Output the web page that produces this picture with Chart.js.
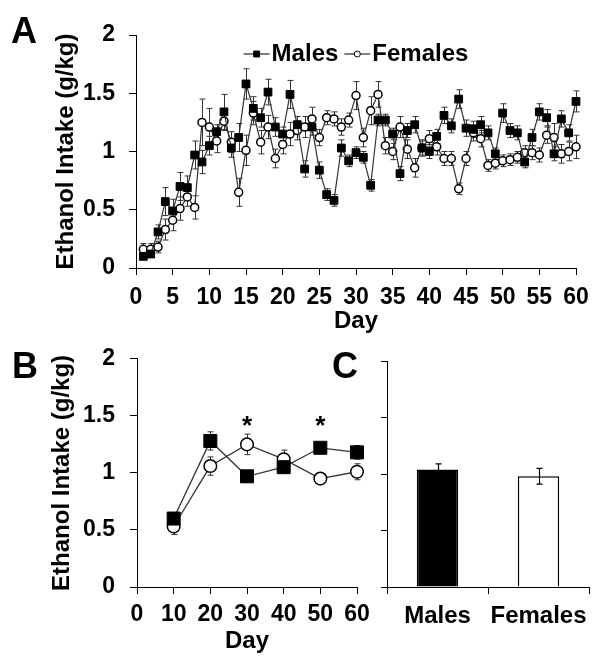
<!DOCTYPE html>
<html>
<head>
<meta charset="utf-8">
<script src="https://cdn.jsdelivr.net/npm/chart.js@4.4.1/dist/chart.umd.min.js"></script>
<style>
    body { margin: 0; background: #fff; width: 601px; height: 668px; position: relative; overflow: hidden;
           font-family: "Liberation Sans", Arial, sans-serif; }
    canvas { position: absolute; }
    .panel { position: absolute; font-weight: bold; font-size: 36px; line-height: 36px; z-index: 2; }
</style>
</head>
<body>
<canvas id="chartA" width="601" height="340" style="left:0;top:0"></canvas>
<canvas id="chartB" width="380" height="338" style="left:0;top:330px"></canvas>
<canvas id="chartC" width="231" height="338" style="left:370px;top:330px"></canvas>
<div class="panel" style="left:11px;top:13px">A</div>
<div class="panel" style="left:12px;top:348px">B</div>
<div class="panel" style="left:332px;top:348px">C</div>
<script>
// Panel A - daily intake (g/kg), days 1-60
const days = [1, 2, 3, 4, 5, 6, 7, 8, 9, 10, 11, 12, 13, 14, 15, 16, 17, 18, 19, 20,
    21, 22, 23, 24, 25, 26, 27, 28, 29, 30, 31, 32, 33, 34, 35, 36, 37, 38, 39, 40,
    41, 42, 43, 44, 45, 46, 47, 48, 49, 50, 51, 52, 53, 54, 55, 56, 57, 58, 59, 60];
const malesDaily = [0.10, 0.12, 0.31, 0.57, 0.49, 0.70, 0.69, 0.97, 0.91, 1.05,
    1.17, 1.34, 1.03, 1.12, 1.58, 1.37, 1.29, 1.51, 1.21, 1.15,
    1.49, 1.23, 0.85, 1.21, 0.84, 0.63, 0.58, 1.03, 0.92, 0.99,
    0.95, 0.71, 1.27, 1.27, 1.15, 0.81, 1.18, 1.23, 1.03, 1.00,
    1.13, 1.31, 1.22, 1.45, 1.20, 1.19, 1.23, 1.16, 0.98, 1.33,
    1.18, 1.16, 0.91, 1.12, 1.34, 1.29, 0.98, 1.28, 1.16, 1.43];
const femalesDaily = [0.16, 0.16, 0.18, 0.33, 0.41, 0.51, 0.61, 0.52, 1.25, 1.21,
    1.09, 1.26, 1.08, 0.65, 1.01, 1.33, 1.08, 1.21, 0.94, 1.06,
    1.15, 1.18, 1.21, 1.28, 1.12, 1.29, 1.28, 1.21, 1.27, 1.48,
    1.12, 1.35, 1.49, 1.05, 1.00, 1.21, 1.02, 0.86, 1.03, 1.11,
    1.04, 0.94, 0.94, 0.68, 0.94, 1.16, 1.11, 0.88, 0.90, 0.92,
    0.93, 0.95, 0.99, 0.99, 0.97, 1.14, 1.12, 0.98, 1.00, 1.04];
const malesDailySem = [0.03, 0.03, 0.06, 0.12, 0.10, 0.12, 0.10, 0.12, 0.10, 0.08,
    0.06, 0.15, 0.08, 0.12, 0.13, 0.10, 0.08, 0.11, 0.08, 0.06,
    0.12, 0.07, 0.07, 0.07, 0.07, 0.05, 0.05, 0.07, 0.05, 0.05,
    0.05, 0.05, 0.05, 0.05, 0.05, 0.06, 0.06, 0.07, 0.06, 0.06,
    0.06, 0.07, 0.06, 0.08, 0.07, 0.07, 0.07, 0.06, 0.05, 0.08,
    0.06, 0.06, 0.05, 0.07, 0.07, 0.07, 0.06, 0.07, 0.07, 0.09];
const femalesDailySem = [0.05, 0.05, 0.05, 0.09, 0.09, 0.10, 0.08, 0.10, 0.20, 0.16,
    0.10, 0.08, 0.09, 0.12, 0.13, 0.10, 0.10, 0.10, 0.08, 0.08,
    0.10, 0.08, 0.09, 0.10, 0.07, 0.06, 0.06, 0.07, 0.06, 0.12,
    0.08, 0.12, 0.11, 0.07, 0.07, 0.09, 0.08, 0.08, 0.07, 0.07,
    0.07, 0.06, 0.06, 0.05, 0.06, 0.07, 0.07, 0.05, 0.05, 0.05,
    0.05, 0.05, 0.06, 0.06, 0.06, 0.07, 0.12, 0.08, 0.08, 0.10];

// Panel B - 10-day blocks
const blockDays = [10, 20, 30, 40, 50, 60];
const malesBlock = [0.60, 1.28, 0.97, 1.05, 1.22, 1.18];
const femalesBlock = [0.53, 1.06, 1.25, 1.12, 0.95, 1.01];
const malesBlockSem = [0.02, 0.08, 0.03, 0.03, 0.03, 0.06];
const femalesBlockSem = [0.07, 0.08, 0.09, 0.08, 0.03, 0.07];
const sigDays = [30, 50];
const sigLevel = 1.4;

// Panel C - overall mean
const groups = ['Males', 'Females'];
const overallMean = [1.04, 0.98];
const overallSem = [0.05, 0.07];

const FONT = '"Liberation Sans", Arial, sans-serif';
Chart.defaults.font.family = FONT;
Chart.defaults.font.weight = 'bold';
Chart.defaults.color = '#000';

// error bars drawn from dataset.errors
const errorBars = {
    id: 'errorBars',
    beforeDatasetsDraw(chart, args, opts) { if (!opts.onTop) drawErrors(chart, opts); },
    afterDatasetsDraw(chart, args, opts) { if (opts.onTop) drawErrors(chart, opts); }
};
function drawErrors(chart, opts) {
    const ctx = chart.ctx;
    const yScale = chart.scales.y;
    chart.data.datasets.forEach((ds, di) => {
        if (!ds.errors) return;
        const meta = chart.getDatasetMeta(di);
        ctx.save();
        ctx.strokeStyle = opts.color || '#222';
        ctx.lineWidth = opts.lineWidth || 1;
        meta.data.forEach((el, i) => {
            const raw = ds.data[i];
            const val = typeof raw === 'object' ? raw.y : raw;
            const e = ds.errors[i];
            const x = Math.round(el.x) + 0.5;
            const top = yScale.getPixelForValue(val + e);
            const bot = yScale.getPixelForValue(val - e);
            const cap = opts.cap || 3;
            ctx.beginPath();
            ctx.moveTo(x, top); ctx.lineTo(x, bot);
            ctx.moveTo(x - cap, top); ctx.lineTo(x + cap, top);
            ctx.moveTo(x - cap, bot); ctx.lineTo(x + cap, bot);
            ctx.stroke();
        });
        ctx.restore();
    });
}

// legend with line + marker, centered over the plot area
const lineLegend = {
    id: 'lineLegend',
    afterDraw(chart, args, opts) {
        if (!opts.display) return;
        const ctx = chart.ctx;
        const area = chart.chartArea;
        ctx.save();
        ctx.font = 'bold 24px ' + FONT;
        const sym = 26, gap = 2, between = 6;
        const items = chart.data.datasets.map(ds => ({ ds: ds, w: ctx.measureText(ds.label).width }));
        const total = items.reduce((s, it) => s + sym + gap + it.w, 0) + between * (items.length - 1);
        let x = (area.left + area.right) / 2 - total / 2;
        const y = area.top + opts.offsetY;
        items.forEach(it => {
            ctx.strokeStyle = '#000';
            ctx.lineWidth = 1;
            ctx.beginPath();
            ctx.moveTo(x, y); ctx.lineTo(x + sym, y);
            ctx.stroke();
            ctx.fillStyle = it.ds.pointBackgroundColor;
            ctx.strokeStyle = '#000';
            Chart.helpers.drawPoint(ctx, {
                pointStyle: it.ds.pointStyle,
                radius: it.ds.pointStyle === 'rect' ? 4.2 : 3,
                rotation: 0,
                borderWidth: 1
            }, x + sym / 2, y);
            ctx.fillStyle = '#000';
            ctx.textBaseline = 'middle';
            ctx.textAlign = 'left';
            ctx.fillText(it.ds.label, x + sym + gap, y);
            x += sym + gap + it.w + between;
        });
        ctx.restore();
    }
};

// asterisks over significant blocks
const sigMarks = {
    id: 'sigMarks',
    afterDatasetsDraw(chart, args, opts) {
        if (!opts.days) return;
        const ctx = chart.ctx;
        ctx.save();
        ctx.font = 'bold 26px ' + FONT;
        ctx.fillStyle = '#000';
        ctx.textAlign = 'center';
        ctx.textBaseline = 'middle';
        opts.days.forEach(d => {
            ctx.fillText('*', chart.scales.x.getPixelForValue(d), chart.scales.y.getPixelForValue(opts.level));
        });
        ctx.restore();
    }
};

const axisLine = { display: true, color: '#000', width: 1 };
const tickGrid = { drawOnChartArea: false, drawTicks: true, tickLength: 7, color: '#000' };
const fmt = v => v.toString();

function seriesPoints(xs, ys) {
    return xs.map((d, i) => ({ x: d, y: ys[i] }));
}

document.addEventListener('DOMContentLoaded', function() {
    // Panel A
    new Chart(document.getElementById('chartA'), {
        type: 'line',
        data: {
            datasets: [{
                label: 'Males',
                data: seriesPoints(days, malesDaily),
                errors: malesDailySem,
                clip: false,
                borderColor: '#333',
                borderWidth: 1.2,
                pointStyle: 'rect',
                pointRadius: 5.5,
                pointBackgroundColor: '#000',
                pointBorderColor: '#000',
                pointBorderWidth: 1
            }, {
                label: 'Females',
                data: seriesPoints(days, femalesDaily),
                errors: femalesDailySem,
                clip: false,
                borderColor: '#333',
                borderWidth: 1.2,
                pointStyle: 'circle',
                pointRadius: 4,
                pointBackgroundColor: '#fff',
                pointBorderColor: '#000',
                pointBorderWidth: 1.5
            }]
        },
        options: {
            responsive: false,
            animation: false,
            layout: { padding: { left: 0, right: 25, top: 35, bottom: 0 } },
            plugins: {
                legend: { display: false },
                tooltip: { enabled: false },
                errorBars: { cap: 3, color: '#333', lineWidth: 1 },
                lineLegend: { display: true, offsetY: 19 }
            },
            scales: {
                x: {
                    type: 'linear', min: 0, max: 60,
                    ticks: { stepSize: 5, autoSkip: false, maxRotation: 0, padding: 9, color: '#000',
                             font: { size: 23, weight: 'bold' } },
                    grid: tickGrid,
                    border: axisLine,
                    title: { display: true, text: 'Day', color: '#000', font: { size: 24, weight: 'bold' },
                             padding: { top: 0, bottom: 4 } },
                    afterFit(s) { s.height = 72; }
                },
                y: {
                    min: 0, max: 2,
                    ticks: { stepSize: 0.5, padding: 14, color: '#000', callback: fmt,
                             font: { size: 23, weight: 'bold' } },
                    grid: tickGrid,
                    border: axisLine,
                    title: { display: true, text: 'Ethanol Intake (g/kg)', color: '#000',
                             font: { size: 24, weight: 'bold' }, padding: { top: 52, bottom: 0 } },
                    afterFit(s) { s.width = 136; }
                }
            }
        },
        plugins: [errorBars, lineLegend]
    });

    // Panel B
    new Chart(document.getElementById('chartB'), {
        type: 'line',
        data: {
            datasets: [{
                label: 'Males',
                data: seriesPoints(blockDays, malesBlock),
                errors: malesBlockSem,
                clip: false,
                borderColor: '#333',
                borderWidth: 1.3,
                pointStyle: 'rect',
                pointRadius: 9.2,
                pointBackgroundColor: '#000',
                pointBorderColor: '#000',
                pointBorderWidth: 1
            }, {
                label: 'Females',
                data: seriesPoints(blockDays, femalesBlock),
                errors: femalesBlockSem,
                clip: false,
                borderColor: '#333',
                borderWidth: 1.3,
                pointStyle: 'circle',
                pointRadius: 6.3,
                pointBackgroundColor: '#fff',
                pointBorderColor: '#000',
                pointBorderWidth: 1.5
            }]
        },
        options: {
            responsive: false,
            animation: false,
            layout: { padding: { left: 0, right: 23, top: 25, bottom: 0 } },
            plugins: {
                legend: { display: false },
                tooltip: { enabled: false },
                errorBars: { cap: 3, color: '#333', lineWidth: 1 },
                sigMarks: { days: sigDays, level: sigLevel }
            },
            scales: {
                x: {
                    type: 'linear', min: 0, max: 60,
                    ticks: { stepSize: 10, autoSkip: false, maxRotation: 0, padding: 7, color: '#000',
                             font: { size: 23, weight: 'bold' } },
                    grid: tickGrid,
                    border: axisLine,
                    title: { display: true, text: 'Day', color: '#000', font: { size: 24, weight: 'bold' },
                             padding: { top: 0, bottom: 12 } },
                    afterFit(s) { s.height = 81; }
                },
                y: {
                    min: 0, max: 2,
                    ticks: { stepSize: 0.5, padding: 15, color: '#000', callback: fmt,
                             font: { size: 23, weight: 'bold' } },
                    grid: tickGrid,
                    border: axisLine,
                    title: { display: true, text: 'Ethanol Intake (g/kg)', color: '#000',
                             font: { size: 24, weight: 'bold' }, padding: { top: 48, bottom: 0 } },
                    afterFit(s) { s.width = 137; }
                }
            }
        },
        plugins: [errorBars, sigMarks]
    });

    // Panel C
    new Chart(document.getElementById('chartC'), {
        type: 'bar',
        data: {
            labels: groups,
            datasets: [{
                label: 'Overall',
                data: overallMean,
                errors: overallSem,
                backgroundColor: ['#000', '#fff'],
                borderColor: '#000',
                borderWidth: 1.5,
                borderSkipped: 'start',
                barPercentage: 0.41,
                categoryPercentage: 1
            }]
        },
        options: {
            responsive: false,
            animation: false,
            layout: { padding: { left: 0, right: 12, top: 31, bottom: 0 } },
            plugins: {
                legend: { display: false },
                tooltip: { enabled: false },
                errorBars: { cap: 3, color: '#000', lineWidth: 1.2, onTop: true }
            },
            scales: {
                x: {
                    ticks: { padding: 8, color: '#000', autoSkip: false, maxRotation: 0, minRotation: 0,
                             font: { size: 24, weight: 'bold' } },
                    grid: { drawOnChartArea: false, drawTicks: true, tickLength: 7, color: '#000', offset: true },
                    border: axisLine,
                    afterFit(s) { s.height = 81; }
                },
                y: {
                    min: 0, max: 2,
                    ticks: { stepSize: 0.5, display: false },
                    grid: { drawOnChartArea: false, drawTicks: true, tickLength: 6, color: '#000' },
                    border: axisLine,
                    afterFit(s) { s.width = 17; }
                }
            }
        },
        plugins: [errorBars]
    });
});
</script>
</body>
</html>
